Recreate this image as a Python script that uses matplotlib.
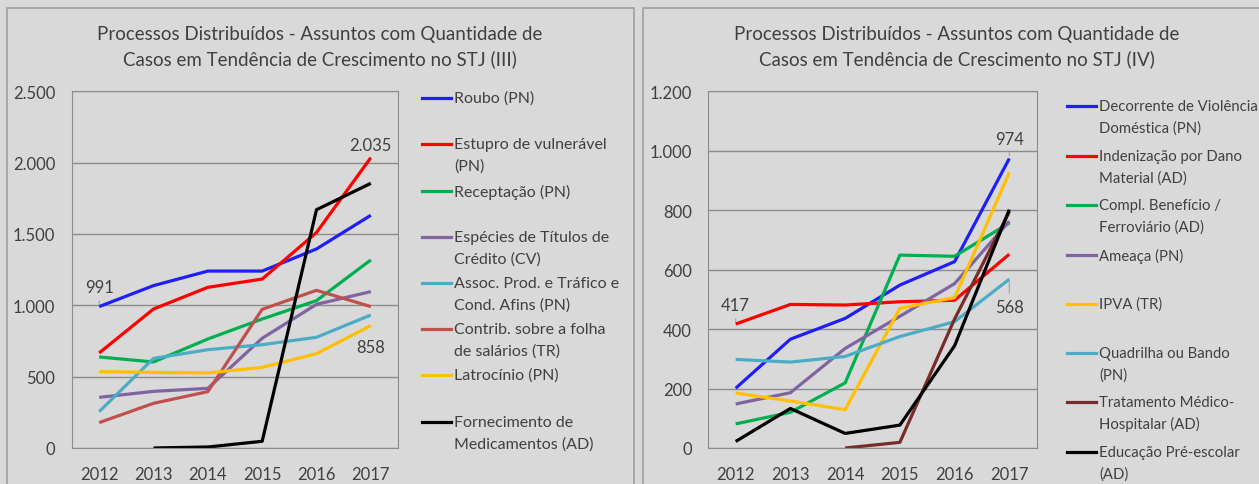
import matplotlib.pyplot as plt
from matplotlib.lines import Line2D
from matplotlib.patches import Rectangle
from matplotlib.ticker import FuncFormatter
import numpy as np

plt.rcParams['font.family'] = ['Lato', 'DejaVu Sans']

years = ['2012', '2013', '2014', '2015', '2016', '2017']

# --- chart III ---
title_3 = 'Processos Distribuídos - Assuntos com Quantidade de\nCasos em Tendência de Crescimento no STJ (III)'
labels_3 = ['Roubo (PN)', 'Estupro de vulnerável\n(PN)', 'Receptação (PN)',
            'Espécies de Títulos de\nCrédito (CV)', 'Assoc. Prod. e Tráfico e\nCond. Afins (PN)',
            'Contrib. sobre a folha\nde salários (TR)', 'Latrocínio (PN)',
            'Fornecimento de\nMedicamentos (AD)']
roubo = [991, 1138, 1240, 1240, 1395, 1631]
estupro = [666, 974, 1126, 1184, 1510, 2035]
receptacao = [638, 603, 764, 904, 1033, 1318]
especies = [355, 397, 418, 769, 1007, 1096]
assoc = [255, 628, 689, 724, 776, 932]
contrib = [178, 313, 395, 972, 1105, 991]
latrocinio = [535, 530, 526, 565, 661, 858]
fornecimento = [np.nan, 0, 7, 47, 1670, 1855]
series_3 = [roubo, estupro, receptacao, especies, assoc, contrib, latrocinio, fornecimento]
colors_3 = ['#1f1ff5', '#ff0000', '#00b050', '#8064a2', '#4bacc6', '#c0504d', '#ffc000', '#000000']

# --- chart IV ---
title_4 = 'Processos Distribuídos - Assuntos com Quantidade de\nCasos em Tendência de Crescimento no STJ (IV)'
labels_4 = ['Decorrente de Violência\nDoméstica (PN)', 'Indenização por Dano\nMaterial (AD)',
            'Compl. Benefício /\nFerroviário (AD)', 'Ameaça (PN)', 'IPVA (TR)',
            'Quadrilha ou Bando\n(PN)', 'Tratamento Médico-\nHospitalar (AD)',
            'Educação Pré-escolar\n(AD)']
violencia = [201, 366, 436, 548, 627, 974]
indenizacao = [417, 483, 481, 492, 497, 652]
compl = [81, 120, 219, 649, 645, 757]
ameaca = [148, 186, 335, 443, 553, 763]
ipva = [185, 158, 129, 470, 506, 927]
quadrilha = [298, 289, 308, 375, 425, 568]
tratamento = [np.nan, np.nan, 0, 19, 434, 795]
educacao = [22, 133, 49, 77, 344, 802]
series_4 = [violencia, indenizacao, compl, ameaca, ipva, quadrilha, tratamento, educacao]
colors_4 = ['#1f1ff5', '#ff0000', '#00b050', '#8064a2', '#ffc000', '#4bacc6', '#772c2a', '#000000']

bg = '#d9d9d9'
txt = '#404040'
W, H = 1259, 485

fig = plt.figure(figsize=(W / 100, H / 100), dpi=100, facecolor=bg)

# panel borders
fig.add_artist(Rectangle((7 / W, -0.1), (634 - 7) / W, 1.1 - 9 / H, transform=fig.transFigure,
                         fill=False, edgecolor='#a0a0a0', lw=1.2))
fig.add_artist(Rectangle((643 / W, -0.1), 0.5, 1.1 - 9 / H, transform=fig.transFigure,
                         fill=False, edgecolor='#a0a0a0', lw=1.2))

thousands = FuncFormatter(lambda v, p: f'{int(v):,}'.replace(',', '.'))


def make_axes(left_px, right_px, ymax, step):
    ax = fig.add_axes([left_px / W, 1 - 449 / H, (right_px - left_px) / W, (449 - 92.3) / H])
    ax.set_facecolor(bg)
    ax.set_xlim(-0.5, 5.5)
    ax.set_ylim(0, ymax)
    ax.set_yticks(np.arange(0, ymax + 1, step))
    ax.yaxis.set_major_formatter(thousands)
    ax.set_xticks(range(len(years)))
    ax.set_xticklabels(years)
    ax.grid(axis='y', color='#8c8c8c', lw=1)
    ax.set_axisbelow(True)
    for s in ax.spines.values():
        s.set_color('#8c8c8c')
    ax.tick_params(length=0, labelsize=12, colors=txt)
    ax.tick_params(axis='y', pad=12)
    ax.tick_params(axis='x', pad=13)
    return ax


def draw_legend(labels, colors, x_line, ys, size):
    for lab, col, y in zip(labels, colors, ys):
        fy = 1 - y / H
        fig.add_artist(Line2D([x_line / W, (x_line + 29) / W], [fy, fy], color=col, lw=2.3))
        for i, part in enumerate(lab.split('\n')):
            fig.text((x_line + 32) / W, 1 - (y + 21.5 * i) / H, part, fontsize=size,
                     color=txt, va='center', ha='left')


x = np.arange(len(years))

# left chart
ax1 = make_axes(72, 398, 2500, 500)
for vals, col in zip(series_3, colors_3):
    ax1.plot(x, vals, color=col, lw=2.3, solid_capstyle='butt')
fig.text(320 / W, 1 - 47 / H, title_3, ha='center', va='center', fontsize=13.5,
         color=txt, linespacing=1.45)
ax1.annotate('991', (0, roubo[0]), xytext=(0, 1125), ha='center', va='center',
             fontsize=12, color=txt, arrowprops=dict(arrowstyle='-', color='#a0a0a0', lw=0.8))
ax1.text(5, 2125, '2.035', ha='center', va='center', fontsize=12, color=txt)
ax1.text(5, 705, '858', ha='center', va='center', fontsize=12, color=txt)
draw_legend(labels_3, colors_3, 422, [99, 145, 192, 238, 284, 330, 376, 423], 11.5)

# right chart
ax2 = make_axes(708.3, 1036.7, 1200, 200)
for vals, col in zip(series_4, colors_4):
    ax2.plot(x, vals, color=col, lw=2.3, solid_capstyle='butt')
fig.text(957 / W, 1 - 47 / H, title_4, ha='center', va='center', fontsize=13.5,
         color=txt, linespacing=1.45)
ax2.annotate('417', (0, indenizacao[0]), xytext=(0, 480), ha='center', va='center',
             fontsize=12, color=txt, arrowprops=dict(arrowstyle='-', color='#a0a0a0', lw=0.8))
ax2.annotate('974', (5, violencia[5]), xytext=(5, 1040), ha='center', va='center',
             fontsize=12, color=txt, arrowprops=dict(arrowstyle='-', color='#a0a0a0', lw=0.8))
ax2.annotate('568', (5, quadrilha[5]), xytext=(5, 475), ha='center', va='center',
             fontsize=12, color=txt, arrowprops=dict(arrowstyle='-', color='#a0a0a0', lw=0.8))
draw_legend(labels_4, colors_4, 1067, [107, 157, 206, 256, 305, 354, 403, 453], 10.7)

fig.savefig('out.png', dpi=100, facecolor=bg)
